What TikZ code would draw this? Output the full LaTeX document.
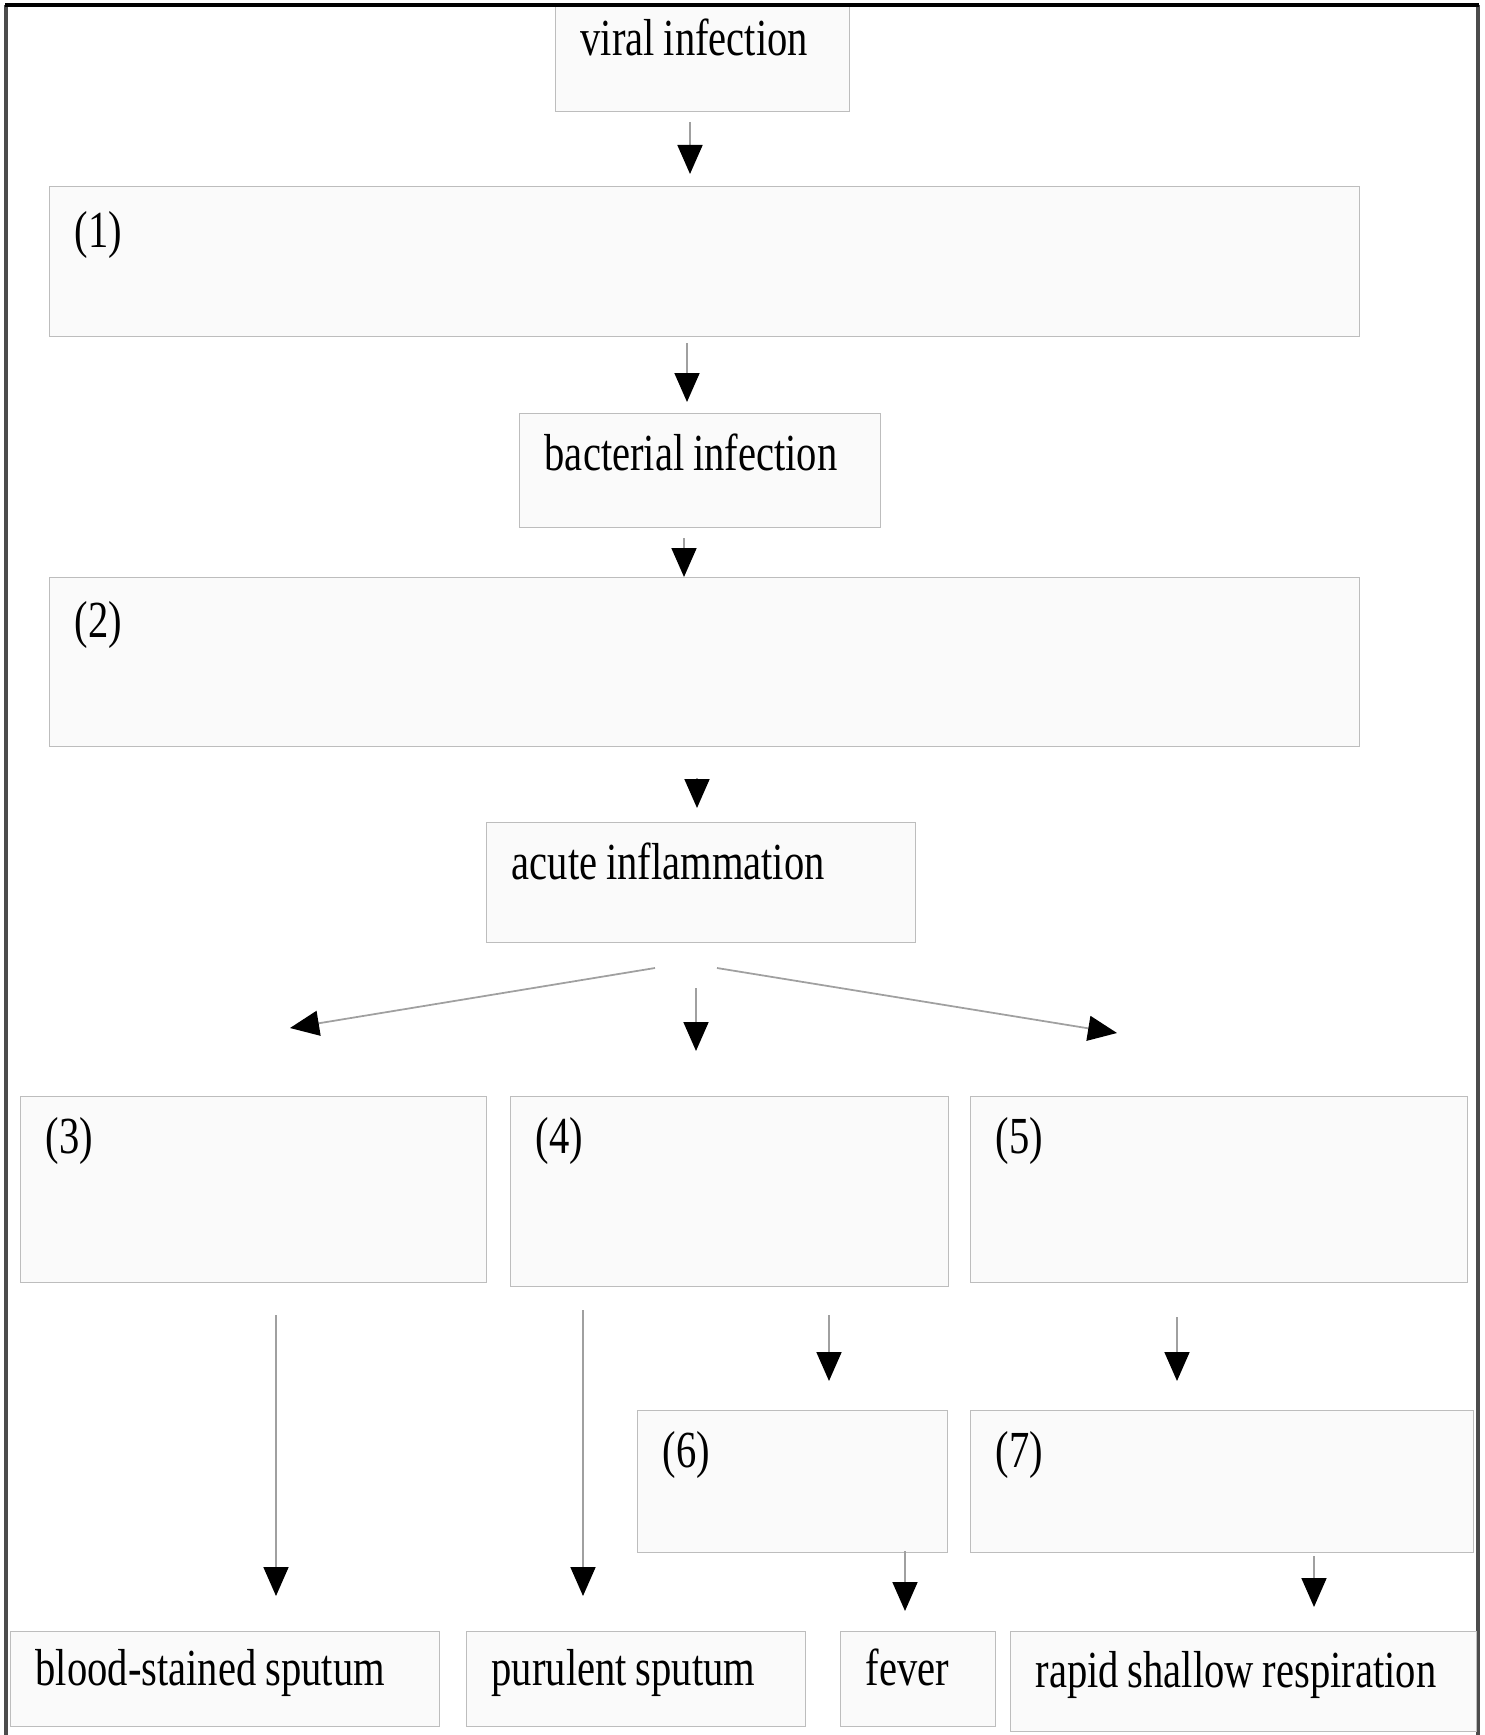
\documentclass[tikz,border=0pt]{standalone}
\usepackage{fontspec}
\setmainfont{Liberation Serif}[FakeStretch=0.78]
\usetikzlibrary{arrows.meta}
\definecolor{boxfill}{HTML}{FAFAFA}
\definecolor{boxline}{HTML}{BDBDBD}
\definecolor{shaft}{HTML}{A0A0A0}
\tikzset{
  box/.style={draw=boxline, fill=boxfill, anchor=north west, inner xsep=0.25cm, inner ysep=0pt,
    align=left, text height=0.57cm, font=\fontsize{14.8pt}{17pt}\selectfont,
    execute at begin node={\spaceskip=0.17em\relax}},
  arr/.style={draw=shaft, line width=0.5pt, -{Triangle[width=2.5mm,length=2.9mm,color=black,fill=black]}}
}
\begin{document}
\begin{tikzpicture}
\useasboundingbox (0,0) rectangle (14.85,-17.35);
%Outer frame
\draw[line width=1.2pt, black!70] (0.06,-17.35)--(0.06,-0.05);
\draw[line width=1.2pt, black!70] (14.78,-0.05)--(14.78,-17.35);

%Chain at the top
\node[box, text width=2.44cm, text height=0.50cm, text depth=0.56cm] (viral) at (5.55,-0.05) {viral infection};
\node[box, text width=12.60cm, text height=0.61cm, text depth=0.89cm] (one) at (0.49,-1.86) {(1)};
\node[box, text width=3.11cm, text depth=0.57cm] (bact) at (5.19,-4.13) {bacterial infection};
\node[box, text width=12.60cm, text height=0.60cm, text depth=1.09cm] (two) at (0.49,-5.77) {(2)};
\node[box, text width=3.79cm, text depth=0.63cm] (acute) at (4.86,-8.22) {acute inflammation};
\draw[line width=1pt, black] (0.05,-0.05)--(14.79,-0.05);

%Middle row
\node[box, text width=4.16cm, text depth=1.29cm] (three) at (0.20,-10.96) {(3)};
\node[box, text width=3.88cm, text depth=1.33cm] (four) at (5.10,-10.96) {(4)};
\node[box, text width=4.47cm, text depth=1.29cm] (five) at (9.70,-10.96) {(5)};
\node[box, text width=2.60cm, text depth=0.85cm] (six) at (6.37,-14.10) {(6)};
\node[box, text width=4.53cm, text depth=0.85cm] (seven) at (9.70,-14.10) {(7)};

%Bottom row
\node[box, text width=3.79cm, text height=0.54cm, text depth=0.41cm] (blood) at (0.10,-16.31) {blood-stained sputum};
\node[box, text width=2.89cm, text height=0.54cm, text depth=0.41cm] (pus) at (4.66,-16.31) {purulent sputum};
\node[box, text width=1.05cm, text height=0.54cm, text depth=0.41cm] (fever) at (8.40,-16.31) {fever};
\node[box, text width=4.16cm, text height=0.56cm, text depth=0.44cm] (rapid) at (10.10,-16.31) {rapid shallow respiration};

%Arrow ends
\coordinate (viral-out) at (6.90,-1.22);  \coordinate (one-in) at (6.90,-1.74);
\coordinate (one-out) at (6.87,-3.43);    \coordinate (bact-in) at (6.87,-4.02);
\coordinate (bact-out) at (6.84,-5.38);   \coordinate (two-in) at (6.84,-5.77);
\coordinate (two-out) at (6.97,-7.78);    \coordinate (acute-in) at (6.97,-8.08);
\coordinate (acute-l) at (6.55,-9.68);    \coordinate (three-in) at (2.90,-10.28);
\coordinate (acute-m) at (6.96,-9.88);    \coordinate (four-in) at (6.96,-10.51);
\coordinate (acute-r) at (7.17,-9.68);    \coordinate (five-in) at (11.17,-10.33);
\coordinate (three-out) at (2.76,-13.15); \coordinate (blood-in) at (2.76,-15.96);
\coordinate (four-out) at (5.83,-13.10);  \coordinate (pus-in) at (5.83,-15.96);
\coordinate (four-r) at (8.29,-13.15);    \coordinate (six-in) at (8.29,-13.81);
\coordinate (five-out) at (11.77,-13.17); \coordinate (seven-in) at (11.77,-13.81);
\coordinate (six-out) at (9.05,-15.51);   \coordinate (fever-in) at (9.05,-16.11);
\coordinate (seven-out) at (13.14,-15.56);\coordinate (rapid-in) at (13.14,-16.07);

%Arrows
\draw[arr] (viral-out)--(one-in);
\draw[arr] (one-out)--(bact-in);
\draw[arr] (bact-out)--(two-in);
\draw[arr] (two-out)--(acute-in);
\draw[arr] (acute-l)--(three-in);
\draw[arr] (acute-m)--(four-in);
\draw[arr] (acute-r)--(five-in);
\draw[arr] (three-out)--(blood-in);
\draw[arr] (four-out)--(pus-in);
\draw[arr] (four-r)--(six-in);
\draw[arr] (five-out)--(seven-in);
\draw[arr] (six-out)--(fever-in);
\draw[arr] (seven-out)--(rapid-in);
\end{tikzpicture}
\end{document}
